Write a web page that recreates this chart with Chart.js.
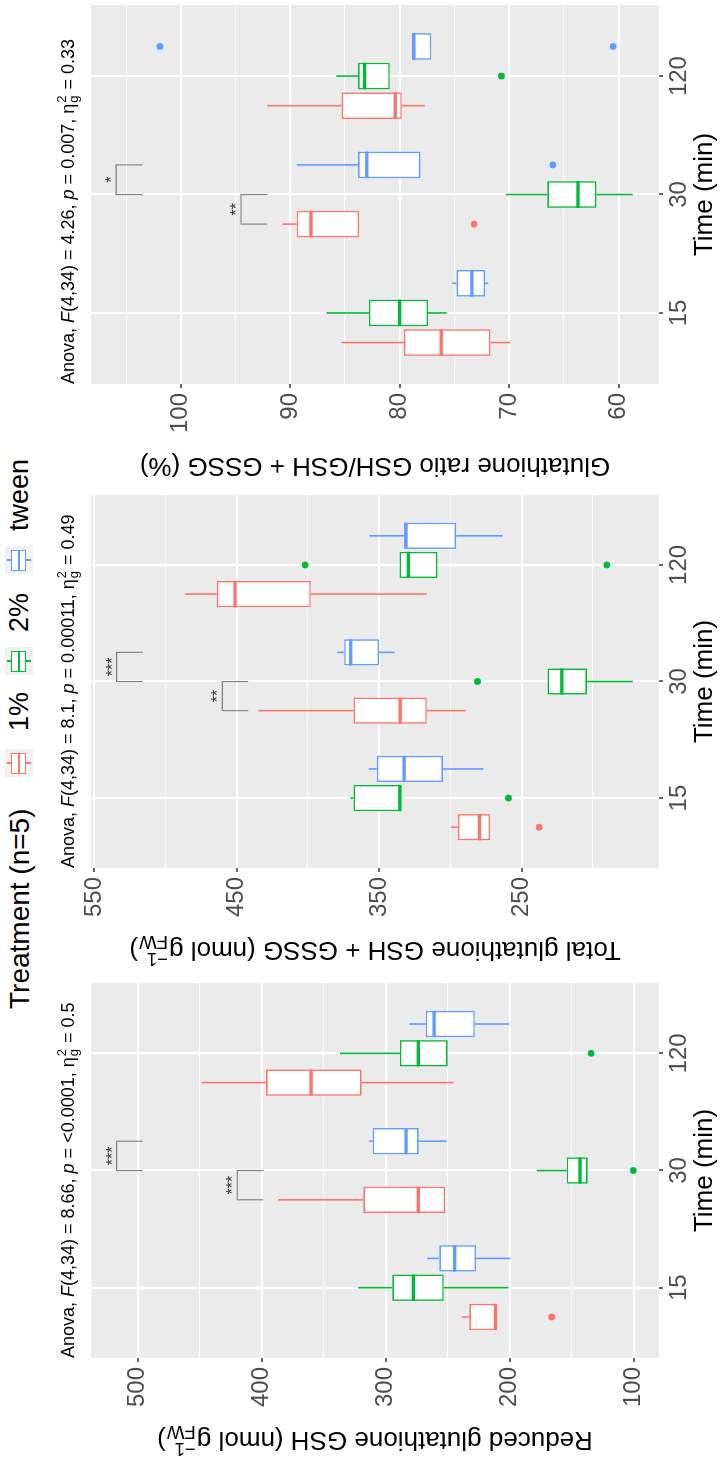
<!DOCTYPE html>
<html>
<head>
<meta charset="utf-8">
<script src="https://cdn.jsdelivr.net/npm/chart.js@4.4.0/dist/chart.umd.min.js"></script>
<style>
  html, body { margin: 0; padding: 0; background: #fff; }
  body { width: 720px; height: 1460px; overflow: hidden; position: relative; }
  /* the figure is laid out landscape and turned a quarter left */
  #fig { position: absolute; left: 0; top: 0; width: 1460px; height: 720px; background: #fff;
         transform-origin: 0 0; transform: translateY(1460px) rotate(-90deg);
         font-family: "Liberation Sans", Arial, sans-serif; }
  #fig canvas { position: absolute; top: 0; }
  .ltitle { position: absolute; left: 451px; top: 0; line-height: 40px; font-size: 28px; color: #000; white-space: nowrap; }
  .key { position: absolute; top: 5px; width: 28px; height: 28px; background: #F2F2F2; }
  .lab { position: absolute; top: 0; line-height: 38px; font-size: 27px; color: #000; white-space: nowrap; }
</style>
</head>
<body>
<div id="fig">
  <div id="legend"></div>
  <canvas id="gshChart"></canvas>
  <canvas id="totChart"></canvas>
  <canvas id="ratioChart"></canvas>
</div>
<script>
const times = ['15', '30', '120'];
const treatments = ['1%', '2%', 'tween'];
const colors = ['#F8766D', '#00BA38', '#619CFF'];

// each box: [lower whisker, Q1, median, Q3, upper whisker] at 15, 30, 120 min
// Reduced glutathione GSH
const gsh1 = [[210.5, 210.5, 211.5, 232.6, 238.7], [252.2, 252.2, 273.7, 318.1, 386.6], [245.6, 319.4, 360.2, 396.5, 448.4]];
const gsh2 = [[201.1, 253.2, 277.7, 294.7, 322.3], [137.1, 137.1, 143.3, 154.0, 178.2], [250.0, 250.0, 273.7, 288.5, 336.9]];
const gshTween = [[199.2, 227.2, 244.4, 256.8, 266.5], [250.8, 273.4, 283.6, 310.5, 313.2], [200.3, 228.2, 261.0, 267.7, 281.0]];
const gshOut1 = [[166.1], [], []];
const gshOut2 = [[], [100.3], [134.4]];
const gshOutTween = [[], [], []];
const gshTicks = [100, 200, 300, 400, 500];
const gshRange = [79.6, 537.7];
// [time, from, to, bar value, tip value, label]
const gshBrackets = [['30', '2%', 'tween', 517, 496, '***'], ['30', '1%', '2%', 419.7, 398.7, '***']];
const gshStats = ['Anova, ', {it: 'F'}, '(4,34) = 8.66, ', {it: 'p'}, ' = <0.0001, η', {sup: '2', sub: 'g'}, ' = 0.5'];
const gshTitle = ['Reduced glutathione GSH (nmol g', {sup: '−1', sub: 'FW'}, ')'];

// Total glutathione GSH + GSSG
const tot1 = [[272.1, 272.1, 279.6, 294.8, 299.7], [289.0, 316.6, 335.3, 368.1, 434.8], [316.6, 398.0, 451.2, 464.0, 486.3]];
const tot2 = [[334.6, 334.6, 335.5, 368.1, 370.4], [171.9, 204.2, 221.8, 231.9, 231.9], [309.1, 309.1, 329.5, 335.8, 335.8]];
const totTween = [[276.8, 305.3, 332.5, 351.7, 357.6], [339.3, 350.1, 370.0, 374.6, 379.4], [263.2, 296.0, 331.3, 331.3, 356.9]];
const totOut1 = [[237.7], [], []];
const totOut2 = [[259.3], [281.0], [402.0, 190.2]];
const totOutTween = [[], [], []];
const totTicks = [250, 350, 450, 550];
const totRange = [153.6, 552.3];
const totBrackets = [['30', '2%', 'tween', 534.3, 516, '***'], ['30', '1%', '2%', 460.1, 441.9, '**']];
const totStats = ['Anova, ', {it: 'F'}, '(4,34) = 8.1, ', {it: 'p'}, ' = 0.00011, η', {sup: '2', sub: 'g'}, ' = 0.49'];
const totTitle = ['Total glutathione GSH + GSSG (nmol g', {sup: '−1', sub: 'FW'}, ')'];

// Glutathione ratio GSH/GSH + GSSG
const ratio1 = [[69.9, 71.7, 76.2, 79.6, 85.3], [83.7, 83.7, 88.1, 89.4, 90.7], [77.7, 79.8, 80.4, 85.3, 92.1]];
const ratio2 = [[75.7, 77.4, 80.0, 82.8, 86.7], [58.7, 62.0, 63.7, 66.5, 70.3], [80.9, 80.9, 83.2, 83.8, 85.8]];
const ratioTween = [[71.9, 72.2, 73.4, 74.8, 75.2], [78.1, 78.1, 83.0, 83.8, 89.4], [77.1, 77.1, 78.7, 78.9, 78.9]];
const ratioOut1 = [[], [73.2], []];
const ratioOut2 = [[], [], [70.7]];
const ratioOutTween = [[], [66.0], [60.5, 101.9]];
const ratioTicks = [60, 70, 80, 90, 100];
const ratioRange = [56.3, 108.2];
const ratioBrackets = [['30', '2%', 'tween', 105.9, 103.5, '*'], ['30', '1%', '2%', 94.5, 92.1, '**']];
const ratioStats = ['Anova, ', {it: 'F'}, '(4,34) = 4.26, ', {it: 'p'}, ' = 0.007, η', {sup: '2', sub: 'g'}, ' = 0.33'];
const ratioTitle = ['Glutathione ratio GSH/GSH + GSSG (%)'];

const FONT = '"Liberation Sans", Arial, sans-serif';
const AXIS_W = 102;
const RIGHT_PAD = 80;   // room for the stats line that runs past the panel
const PLOT_TOP = 91;
const PLOT_BOTTOM = 659;
const FIG_H = 720;

// legend (key and label left edges in figure pixels)
const keyLeft = [683, 785, 886];
const labLeft = [729, 828, 929];
let legendHtml = '<span class="ltitle">Treatment (n=5)</span>';
treatments.forEach((t, k) => {
  const c = colors[k];
  legendHtml += '<div class="key" style="left:' + keyLeft[k] + 'px">' +
    '<div style="position:absolute;left:13px;top:2px;width:2px;height:5px;background:' + c + '"></div>' +
    '<div style="position:absolute;left:13px;top:21px;width:2px;height:5px;background:' + c + '"></div>' +
    '<div style="position:absolute;left:3px;top:6px;width:19px;height:13px;background:#fff;border:1.5px solid ' + c + '"></div>' +
    '<div style="position:absolute;left:4px;top:13px;width:20px;height:2px;background:' + c + '"></div>' +
    '</div><span class="lab" style="left:' + labLeft[k] + 'px">' + t + '</span>';
});
document.getElementById('legend').innerHTML = legendHtml;

// text with italics and stacked super/subscripts
function richText(ctx, parts, size, x, y, draw) {
  let cx = x;
  parts.forEach(part => {
    if (typeof part === 'string' || part.it) {
      const txt = typeof part === 'string' ? part : part.it;
      ctx.font = (part.it ? 'italic ' : '') + size + 'px ' + FONT;
      if (draw) ctx.fillText(txt, cx, y);
      cx += ctx.measureText(txt).width;
    } else {
      const s = size * 0.72;
      ctx.font = s + 'px ' + FONT;
      const w = Math.max(ctx.measureText(part.sup).width, ctx.measureText(part.sub).width);
      if (draw) {
        ctx.fillText(part.sup, cx + 1, y - size * 0.42);
        ctx.fillText(part.sub, cx + 1, y + size * 0.24);
      }
      cx += w + 2;
    }
  });
  return cx - x;
}

function makePanel(canvasId, p) {
  const canvas = document.getElementById(canvasId);
  canvas.width = AXIS_W + p.width + RIGHT_PAD;
  canvas.height = FIG_H;
  canvas.style.left = (p.left - AXIS_W) + 'px';

  const step = p.ticks[1] - p.ticks[0];
  const gridValues = [];
  for (let v = p.ticks[0] - step; v <= p.ticks[p.ticks.length - 1] + step; v += step / 2) {
    if (v >= p.range[0] && v <= p.range[1]) gridValues.push(v);
  }
  const isMajor = v => p.ticks.includes(v);

  const datasets = treatments.map((t, k) => ({
    type: 'bar',
    label: t,
    data: p.boxes[k].map((b, i) => ({x: i + 1, y: [b[1], b[3]]})),
    backgroundColor: '#ffffff',
    borderColor: colors[k],
    borderWidth: 1.6,
    borderSkipped: false,
    categoryPercentage: 0.75,
    barPercentage: 0.9
  }));
  treatments.forEach((t, k) => {
    const pts = [];
    p.outliers[k].forEach((vals, i) => vals.forEach(v => pts.push({x: i + 1 + (k - 1) * 0.25, y: v})));
    datasets.push({
      type: 'scatter',
      label: t + ' outliers',
      data: pts,
      backgroundColor: colors[k],
      borderWidth: 0,
      pointRadius: 3.4
    });
  });

  const extras = {
    id: 'boxExtras',
    beforeDraw(chart) {
      const {ctx, chartArea: a} = chart;
      ctx.save();
      ctx.fillStyle = '#EBEBEB';
      ctx.fillRect(a.left, a.top, a.right - a.left, a.bottom - a.top);
      ctx.restore();
    },
    beforeDatasetsDraw(chart) {
      // whiskers
      const {ctx} = chart;
      const y = chart.scales.y;
      ctx.save();
      ctx.lineWidth = 1.6;
      treatments.forEach((t, k) => {
        const meta = chart.getDatasetMeta(k);
        ctx.strokeStyle = colors[k];
        p.boxes[k].forEach((b, i) => {
          const x = meta.data[i].x;
          ctx.beginPath();
          ctx.moveTo(x, y.getPixelForValue(b[0]));
          ctx.lineTo(x, y.getPixelForValue(b[1]));
          ctx.moveTo(x, y.getPixelForValue(b[3]));
          ctx.lineTo(x, y.getPixelForValue(b[4]));
          ctx.stroke();
        });
      });
      ctx.restore();
    },
    afterDatasetsDraw(chart) {
      const {ctx} = chart;
      const y = chart.scales.y;
      ctx.save();
      // medians
      ctx.lineWidth = 3.4;
      treatments.forEach((t, k) => {
        const meta = chart.getDatasetMeta(k);
        ctx.strokeStyle = colors[k];
        p.boxes[k].forEach((b, i) => {
          const el = meta.data[i];
          const py = y.getPixelForValue(b[2]);
          ctx.beginPath();
          ctx.moveTo(el.x - el.width / 2, py);
          ctx.lineTo(el.x + el.width / 2, py);
          ctx.stroke();
        });
      });
      // significance brackets
      p.brackets.forEach(br => {
        const i = times.indexOf(br[0]);
        const x1 = chart.getDatasetMeta(treatments.indexOf(br[1])).data[i].x;
        const x2 = chart.getDatasetMeta(treatments.indexOf(br[2])).data[i].x;
        const yb = y.getPixelForValue(br[3]);
        const yt = y.getPixelForValue(br[4]);
        ctx.strokeStyle = '#7F7F7F';
        ctx.lineWidth = 1.1;
        ctx.beginPath();
        ctx.moveTo(x1, yt);
        ctx.lineTo(x1, yb);
        ctx.lineTo(x2, yb);
        ctx.lineTo(x2, yt);
        ctx.stroke();
        ctx.fillStyle = '#333333';
        ctx.font = '16px ' + FONT;
        ctx.textAlign = 'center';
        ctx.textBaseline = 'alphabetic';
        ctx.fillText(br[5], (x1 + x2) / 2, yb + 1);
      });
      ctx.restore();
    },
    afterDraw(chart) {
      const {ctx, chartArea: a} = chart;
      ctx.save();
      ctx.fillStyle = '#000';
      ctx.textAlign = 'left';
      ctx.textBaseline = 'alphabetic';
      // statistics subtitle
      richText(ctx, p.stats, 18, a.left, 74, true);
      // y axis title, read bottom to top
      const w = richText(ctx, p.title, 26, 0, 0, false);
      ctx.translate(a.left - 74, (a.top + a.bottom) / 2);
      ctx.rotate(-Math.PI / 2);
      richText(ctx, p.title, 26, -w / 2, 0, true);
      ctx.restore();
    }
  };

  return new Chart(canvas, {
    type: 'bar',
    data: {datasets},
    options: {
      responsive: false,
      animation: false,
      devicePixelRatio: 1,
      layout: {padding: {top: PLOT_TOP, left: 0, right: RIGHT_PAD, bottom: 0}},
      plugins: {legend: {display: false}, tooltip: {enabled: false}, title: {display: false}},
      scales: {
        x: {
          type: 'linear',
          min: 0.4,
          max: 3.6,
          offset: false,
          afterBuildTicks: s => { s.ticks = times.map((t, i) => ({value: i + 1})); },
          afterFit: s => { s.height = FIG_H - PLOT_BOTTOM; },
          ticks: {
            callback: v => times[v - 1],
            autoSkip: false,
            maxRotation: 0,
            color: '#4D4D4D',
            font: {family: FONT, size: 24},
            padding: 2
          },
          grid: {offset: false, color: '#FFFFFF', lineWidth: 2, tickLength: 4, tickColor: '#333333', tickWidth: 1.5},
          border: {display: false},
          title: {display: true, text: 'Time (min)', color: '#000', font: {family: FONT, size: 26}, padding: 0}
        },
        y: {
          type: 'linear',
          min: p.range[0],
          max: p.range[1],
          afterBuildTicks: s => { s.ticks = gridValues.map(v => ({value: v})); },
          afterFit: s => { s.width = AXIS_W; },
          ticks: {
            callback: v => isMajor(v) ? String(v) : '',
            autoSkip: false,
            color: '#4D4D4D',
            font: {family: FONT, size: 24},
            padding: 5
          },
          grid: {
            color: '#FFFFFF',
            lineWidth: c => isMajor(c.tick.value) ? 2 : 1,
            tickLength: 4,
            tickColor: c => isMajor(c.tick.value) ? '#333333' : 'rgba(0,0,0,0)',
            tickWidth: 1.5
          },
          border: {display: false}
        }
      }
    },
    plugins: [extras]
  });
}

makePanel('gshChart', {
  left: 102, width: 375,
  boxes: [gsh1, gsh2, gshTween],
  outliers: [gshOut1, gshOut2, gshOutTween],
  ticks: gshTicks, range: gshRange, brackets: gshBrackets,
  stats: gshStats, title: gshTitle
});
makePanel('totChart', {
  left: 592, width: 373,
  boxes: [tot1, tot2, totTween],
  outliers: [totOut1, totOut2, totOutTween],
  ticks: totTicks, range: totRange, brackets: totBrackets,
  stats: totStats, title: totTitle
});
makePanel('ratioChart', {
  left: 1076, width: 379,
  boxes: [ratio1, ratio2, ratioTween],
  outliers: [ratioOut1, ratioOut2, ratioOutTween],
  ticks: ratioTicks, range: ratioRange, brackets: ratioBrackets,
  stats: ratioStats, title: ratioTitle
});
</script>
</body>
</html>
